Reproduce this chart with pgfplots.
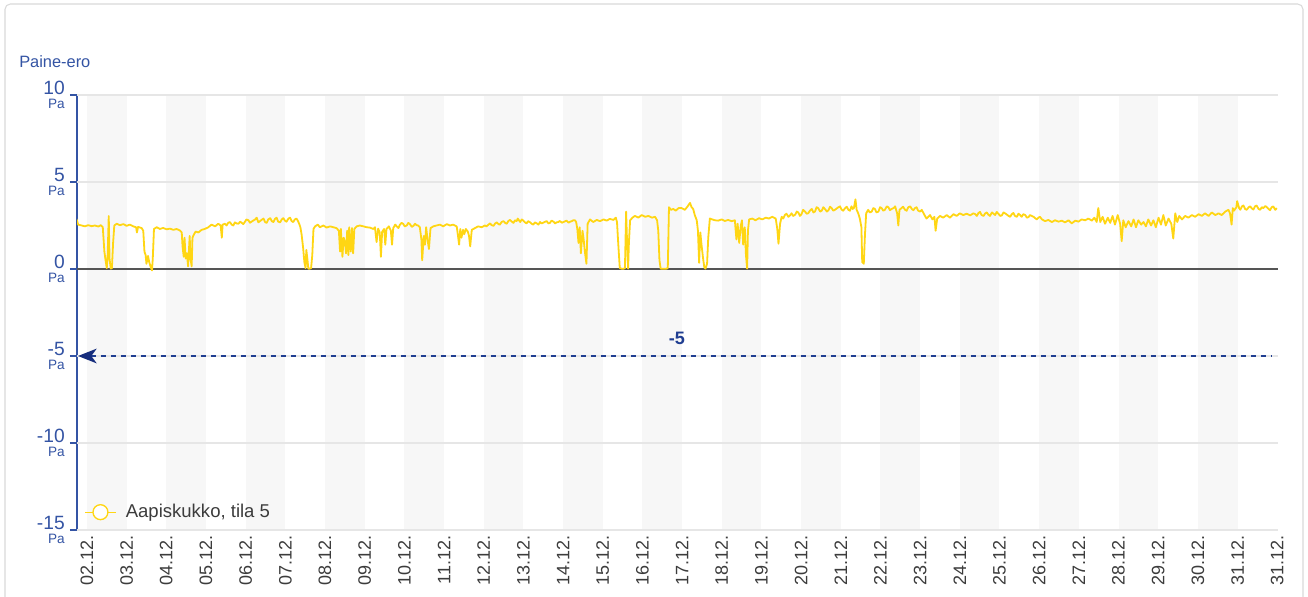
\documentclass[border=0pt]{standalone}
\usepackage{pgfplots}
\pgfplotsset{compat=1.18}
\usepackage{fontspec}
\setmainfont{Liberation Sans}
\usetikzlibrary{arrows.meta}
\definecolor{axisblue}{RGB}{52,84,164}
\definecolor{navyline}{RGB}{32,62,145}
\definecolor{navyarrow}{RGB}{22,45,125}
\definecolor{goldcol}{RGB}{255,214,20}
\definecolor{bandcol}{RGB}{247,247,247}
\definecolor{gridcol}{RGB}{230,230,230}
\definecolor{zerocol}{RGB}{85,85,85}
\definecolor{textgrey}{RGB}{60,60,60}
\definecolor{bordercol}{RGB}{218,218,218}

\pgfplotstableread{
x y
-0.30 2.75
-0.26 2.85
-0.22 2.55
-0.13 2.50
-0.05 2.45
0.03 2.52
0.12 2.46
0.20 2.50
0.29 2.44
0.35 2.52
0.40 2.40
0.44 1.00
0.47 0.50
0.50 0.05
0.52 0.60
0.55 3.05
0.57 0.60
0.60 0.02
0.63 0.05
0.66 1.50
0.69 2.50
0.75 2.60
0.83 2.52
0.92 2.58
1.00 2.48
1.08 2.55
1.17 2.45
1.24 2.40
1.26 2.10
1.29 2.42
1.38 2.35
1.42 2.20
1.45 1.00
1.48 0.80
1.50 0.30
1.54 0.75
1.57 0.40
1.61 0.10
1.64 -0.08
1.66 0.60
1.69 2.30
1.76 2.40
1.84 2.30
1.92 2.36
2.01 2.28
2.09 2.32
2.18 2.25
2.26 2.30
2.34 2.22
2.39 2.10
2.41 1.30
2.44 0.70
2.46 1.80
2.49 0.60
2.52 0.90
2.55 0.15
2.59 1.90
2.61 0.60
2.64 0.15
2.66 1.80
2.70 2.00
2.74 2.15
2.81 2.10
2.89 2.25
2.97 2.30
3.06 2.40
3.14 2.55
3.23 2.45
3.31 2.60
3.37 2.50
3.40 1.80
3.42 2.55
3.48 2.60
3.52 2.50
3.56 2.65
3.60 2.70
3.65 2.55
3.69 2.50
3.73 2.68
3.77 2.62
3.82 2.60
3.86 2.72
3.90 2.66
3.94 2.58
3.98 2.70
4.02 2.85
4.07 2.80
4.11 2.66
4.15 2.72
4.19 2.78
4.24 2.85
4.28 2.95
4.32 2.68
4.36 2.75
4.40 2.82
4.45 2.90
4.49 2.70
4.53 2.65
4.57 2.85
4.62 2.92
4.66 2.75
4.70 2.70
4.74 2.88
4.78 2.95
4.82 2.72
4.87 2.68
4.91 2.85
4.95 2.92
4.99 2.78
5.03 2.72
5.08 2.90
5.12 2.95
5.16 2.75
5.20 2.70
5.24 2.85
5.28 2.90
5.31 2.80
5.35 2.60
5.38 2.40
5.41 2.00
5.45 1.20
5.48 0.40
5.51 0.05
5.53 1.10
5.56 0.50
5.58 0.02
5.61 0.02
5.65 0.05
5.68 0.80
5.71 2.30
5.75 2.45
5.82 2.55
5.87 2.40
5.96 2.50
6.04 2.38
6.13 2.45
6.21 2.40
6.29 2.35
6.35 2.20
6.38 1.00
6.40 2.30
6.44 0.70
6.47 1.80
6.50 1.60
6.53 0.90
6.56 2.20
6.59 0.80
6.61 2.40
6.65 1.00
6.68 2.35
6.71 0.90
6.74 2.30
6.80 2.45
6.88 2.50
6.97 2.45
7.05 2.40
7.13 2.38
7.22 2.30
7.26 2.40
7.30 1.55
7.34 2.32
7.38 2.10
7.41 0.70
7.44 2.13
7.49 2.30
7.52 1.40
7.55 2.30
7.61 2.45
7.66 2.20
7.69 1.40
7.72 2.35
7.77 2.55
7.81 2.45
7.85 2.35
7.89 2.55
7.93 2.65
7.97 2.60
8.01 2.45
8.06 2.50
8.10 2.65
8.14 2.58
8.19 2.42
8.23 2.48
8.27 2.60
8.31 2.52
8.35 2.50
8.39 2.40
8.43 1.70
8.45 0.50
8.49 1.90
8.52 1.40
8.55 2.40
8.59 1.60
8.62 1.15
8.66 2.35
8.73 2.45
8.81 2.50
8.90 2.55
8.98 2.45
9.07 2.58
9.15 2.50
9.23 2.55
9.32 2.45
9.35 1.95
9.38 1.40
9.41 2.30
9.44 1.80
9.48 2.25
9.51 2.00
9.55 2.30
9.60 2.15
9.63 1.90
9.66 1.30
9.70 2.25
9.78 2.35
9.86 2.45
9.95 2.40
10.03 2.50
10.07 2.45
10.12 2.55
10.16 2.62
10.20 2.52
10.25 2.48
10.29 2.62
10.33 2.68
10.37 2.58
10.41 2.55
10.45 2.70
10.50 2.75
10.54 2.65
10.58 2.60
10.62 2.75
10.66 2.82
10.71 2.72
10.75 2.65
10.79 2.80
10.83 2.75
10.86 2.90
10.92 2.70
10.96 2.85
11.00 2.78
11.04 2.68
11.08 2.62
11.12 2.75
11.17 2.68
11.21 2.60
11.25 2.55
11.29 2.68
11.34 2.62
11.38 2.55
11.42 2.70
11.46 2.62
11.50 2.66
11.55 2.72
11.59 2.75
11.63 2.62
11.67 2.65
11.71 2.78
11.76 2.72
11.80 2.62
11.84 2.68
11.88 2.70
11.92 2.76
11.97 2.66
12.01 2.70
12.05 2.74
12.09 2.78
12.14 2.66
12.18 2.72
12.22 2.75
12.26 2.80
12.30 2.80
12.33 2.70
12.36 2.30
12.39 1.50
12.42 2.40
12.45 0.90
12.49 2.20
12.52 1.70
12.55 1.00
12.59 0.30
12.62 2.60
12.68 2.85
12.76 2.70
12.85 2.82
12.93 2.75
13.02 2.85
13.10 2.78
13.18 2.88
13.27 2.82
13.33 2.95
13.36 2.70
13.39 1.50
13.43 0.05
13.48 0.02
13.53 0.02
13.56 0.05
13.59 3.30
13.61 1.80
13.64 0.02
13.66 1.50
13.69 2.80
13.75 2.95
13.81 3.05
13.90 2.95
13.98 3.10
14.07 3.00
14.15 3.05
14.24 2.95
14.32 3.00
14.37 2.80
14.40 2.20
14.43 0.50
14.46 0.02
14.53 0.02
14.60 0.02
14.64 0.05
14.67 3.55
14.72 3.40
14.78 3.45
14.84 3.35
14.91 3.50
14.99 3.50
15.07 3.40
15.14 3.60
15.20 3.80
15.24 3.55
15.28 3.45
15.32 3.10
15.37 2.80
15.40 2.20
15.43 0.35
15.46 2.10
15.49 1.40
15.53 0.60
15.56 0.10
15.59 0.02
15.63 0.30
15.66 1.80
15.70 2.90
15.76 2.85
15.83 2.80
15.91 2.78
16.00 2.85
16.08 2.76
16.16 2.82
16.25 2.75
16.33 2.80
16.37 1.70
16.40 2.60
16.44 1.50
16.48 2.50
16.51 2.80
16.54 1.40
16.58 2.40
16.61 0.80
16.64 0.02
16.66 2.20
16.69 2.85
16.77 2.90
16.85 2.80
16.94 2.92
17.02 2.85
17.11 2.95
17.19 2.90
17.27 3.00
17.36 2.90
17.40 2.30
17.43 1.45
17.47 2.60
17.51 3.00
17.55 2.90
17.59 3.10
17.63 3.18
17.68 3.00
17.72 3.08
17.76 3.20
17.80 3.05
17.85 3.12
17.89 3.30
17.93 3.25
17.97 3.05
18.01 3.15
18.05 3.40
18.10 3.30
18.14 3.18
18.18 3.20
18.22 3.35
18.27 3.45
18.31 3.25
18.35 3.30
18.39 3.55
18.43 3.50
18.48 3.30
18.52 3.35
18.56 3.55
18.60 3.45
18.65 3.30
18.69 3.38
18.73 3.58
18.77 3.50
18.81 3.35
18.85 3.40
18.90 3.48
18.94 3.55
18.98 3.60
19.02 3.42
19.06 3.35
19.11 3.50
19.15 3.58
19.19 3.40
19.23 3.35
19.27 3.60
19.30 3.45
19.33 3.50
19.37 4.00
19.40 3.40
19.44 3.20
19.48 2.90
19.52 2.40
19.54 0.40
19.58 0.30
19.61 2.00
19.64 3.20
19.69 3.40
19.73 3.25
19.78 3.30
19.82 3.50
19.86 3.45
19.90 3.25
19.95 3.30
19.99 3.55
20.03 3.50
20.07 3.35
20.11 3.40
20.16 3.60
20.20 3.55
20.24 3.38
20.28 3.45
20.33 3.50
20.37 3.60
20.42 3.20
20.45 2.50
20.48 3.40
20.53 3.50
20.57 3.58
20.62 3.40
20.66 3.35
20.70 3.55
20.75 3.60
20.79 3.45
20.83 3.38
20.87 3.50
20.91 3.55
20.95 3.35
21.00 3.30
21.04 3.40
21.11 3.10
21.16 2.90
21.25 3.10
21.31 2.85
21.36 3.00
21.39 2.20
21.43 2.90
21.50 3.05
21.58 2.95
21.67 3.10
21.75 2.95
21.84 3.15
21.92 3.05
22.00 3.20
22.09 3.10
22.17 3.18
22.26 3.08
22.34 3.20
22.39 3.15
22.43 3.05
22.47 3.22
22.51 3.28
22.55 3.10
22.60 3.05
22.64 3.20
22.68 3.25
22.72 3.12
22.76 3.05
22.81 3.25
22.85 3.18
22.89 3.10
22.93 3.28
22.97 3.18
23.02 3.05
23.06 3.08
23.10 3.25
23.14 3.20
23.19 3.12
23.23 3.05
23.27 3.00
23.31 3.15
23.35 3.22
23.39 3.05
23.44 3.00
23.48 3.18
23.52 3.10
23.56 3.00
23.60 3.15
23.65 3.10
23.69 2.95
23.73 2.98
23.77 3.10
23.81 3.05
23.86 3.00
23.90 2.92
23.94 2.85
23.98 2.95
24.02 3.00
24.07 2.85
24.15 2.75
24.23 2.82
24.32 2.70
24.40 2.80
24.49 2.72
24.57 2.78
24.65 2.68
24.74 2.80
24.82 2.62
24.91 2.78
24.99 2.72
25.07 2.85
25.16 2.80
25.24 2.90
25.33 2.78
25.39 2.95
25.45 2.70
25.49 3.50
25.54 2.70
25.60 3.00
25.66 2.60
25.73 2.95
25.79 2.65
25.85 3.05
25.91 2.55
25.98 3.10
26.04 2.60
26.08 1.60
26.12 2.80
26.18 2.40
26.25 2.75
26.32 2.45
26.38 2.85
26.44 2.40
26.50 2.80
26.57 2.55
26.63 2.70
26.69 2.45
26.75 2.85
26.82 2.50
26.88 2.80
26.94 2.40
27.01 2.95
27.07 2.55
27.13 3.10
27.19 2.50
27.26 2.90
27.33 2.60
27.38 1.75
27.43 3.20
27.48 2.70
27.53 3.05
27.60 2.85
27.68 3.05
27.76 2.95
27.85 3.10
27.93 3.00
28.02 3.15
28.10 3.05
28.18 3.20
28.27 3.05
28.35 3.25
28.44 3.10
28.52 3.20
28.60 3.10
28.69 3.30
28.77 3.40
28.81 3.20
28.85 2.55
28.88 3.50
28.91 3.35
28.94 3.45
28.97 3.55
28.99 3.90
29.04 3.50
29.07 3.40
29.11 3.60
29.15 3.65
29.19 3.45
29.23 3.40
29.28 3.55
29.32 3.60
29.36 3.48
29.40 3.42
29.44 3.60
29.48 3.65
29.53 3.45
29.57 3.40
29.61 3.55
29.65 3.50
29.70 3.62
29.74 3.55
29.78 3.45
29.82 3.38
29.86 3.55
29.90 3.60
29.95 3.40
29.99 3.50
}\datatable

\begin{document}
\begin{tikzpicture}
\clip (0,0) rectangle (981pt,447pt);
\fill[white] (0,0) rectangle (981pt,447pt);
\draw[bordercol, line width=0.8pt, rounded corners=4pt] (3.75pt,-20pt) rectangle (977.25pt,444pt);
\node[anchor=west, text=axisblue, font=\fontsize{12.3pt}{14pt}\selectfont, inner sep=0pt] at (14.25pt,400.5pt) {Paine-ero};
\begin{axis}[
  at={(57.75pt,49.5pt)}, anchor=south west,
  scale only axis, width=900.75pt, height=326.25pt,
  xmin=-0.25, xmax=30.02, ymin=-15, ymax=10,
  axis x line*=bottom, axis y line*=left,
  x axis line style={draw=none},
  y axis line style={-, draw=axisblue, line width=1.1pt},
  xtick={0,...,30},
  xticklabels={02.12.,03.12.,04.12.,05.12.,06.12.,07.12.,08.12.,09.12.,10.12.,11.12.,12.12.,13.12.,14.12.,15.12.,16.12.,17.12.,18.12.,19.12.,20.12.,21.12.,22.12.,23.12.,24.12.,25.12.,26.12.,27.12.,28.12.,29.12.,30.12.,31.12.,31.12.},
  xtick style={draw=none},
  xticklabel style={rotate=90, anchor=east, font=\fontsize{13.5pt}{14pt}\selectfont, text=textgrey, inner sep=0pt, xshift=1pt},
  ytick={-15,-10,-5,0,5,10},
  ytick style={draw=axisblue, line width=1.1pt},
  tick align=outside, major tick length=5.25pt,
  yticklabel={\pgfmathtruncatemacro\tv{\tick}\tv\\[-2pt]{\fontsize{10.2pt}{10pt}\selectfont Pa}},
  yticklabel style={align=right, anchor=east, font=\fontsize{14.4pt}{12pt}\selectfont, text=axisblue, inner sep=0pt, xshift=-3.75pt},
  legend style={at={(0.006,0.041)}, anchor=west, draw=none, fill=none, font=\fontsize{13.9pt}{14pt}\selectfont, text=textgrey, inner sep=0pt, /tikz/every odd column/.append style={column sep=5pt}},
  legend image code/.code={\draw[goldcol, line width=1pt] (0pt,0pt) -- (23pt,0pt); \draw[goldcol, line width=1pt, fill=white] (11.5pt,0pt) circle (5.6pt);},
]
\pgfplotsforeachungrouped \i in {0,2,...,28}{
  \pgfmathtruncatemacro\j{\i+1}
  \edef\temp{\noexpand\fill[bandcol] (axis cs:\i,-15) rectangle (axis cs:\j,10);}
  \temp
}
\pgfplotsforeachungrouped \g in {-15,-10,-5,5,10}{
  \edef\temp{\noexpand\draw[gridcol, line width=0.8pt] (axis cs:-0.25,\g) -- (axis cs:30.02,\g);}
  \temp
}
\draw[zerocol, line width=1.1pt] (axis cs:-0.25,0) -- (axis cs:30.02,0);
\draw[navyline, line width=1.1pt, dash pattern=on 3.75pt off 3.75pt, {Stealth[length=14pt, width=11pt, inset=4pt, navyarrow]}-] (axis cs:-0.225,-5) -- (axis cs:29.87,-5);
\node[text=navyline, font=\bfseries\fontsize{13.5pt}{14pt}\selectfont] at (axis cs:14.87,-3.97) {-5};
\addplot[goldcol, line width=1.35pt, mark=none, line join=round] table[x=x, y=y] {\datatable};
\addlegendentry{Aapiskukko, tila 5}
\end{axis}
\end{tikzpicture}
\end{document}
